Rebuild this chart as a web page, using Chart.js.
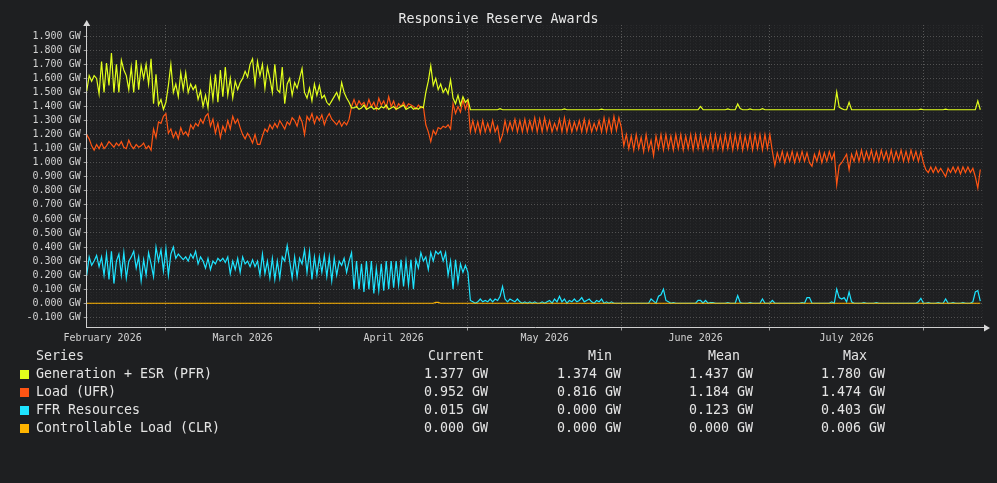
<!DOCTYPE html>
<html><head><meta charset="utf-8">
<script src="https://cdn.jsdelivr.net/npm/chart.js@4"></script>
<style>
html,body{margin:0;padding:0;background:#1e1f21;}
#wrap{position:relative;width:997px;height:483px;overflow:hidden;font-family:"DejaVu Sans Mono",monospace;}
#c{position:absolute;left:0;top:0;}
.t{position:absolute;white-space:pre;font-size:13.3px;line-height:18px;color:#e4e4e4;}
#title{position:absolute;left:0;width:997px;text-align:center;top:10px;font-size:13.3px;line-height:18px;color:#e8e8e8;white-space:pre;}
.sw{position:absolute;width:9px;height:9px;}
#dbg{position:absolute;left:400px;top:450px;color:red;font-size:12px;}
</style></head><body>
<div id="wrap"><canvas id="c" width="997" height="483"></canvas><div id="title">Responsive Reserve Awards</div><div id="legend"></div><div id="dbg"></div></div>
<script>
// x values are days counted from 1 February 2026; one sample every half day
const DAY0 = 12;
const STEP = 0.5;
const X_MIN = 12, X_MAX = 193.25;
const Y_MIN = -0.1726, Y_MAX = 1.98;

const yTickValues = [-0.1,0,0.1,0.2,0.3,0.4,0.5,0.6,0.7,0.8,0.9,1.0,1.1,1.2,1.3,1.4,1.5,1.6,1.7,1.8,1.9];
const monthBoundaries = [28,59,89,120,150,181];
const monthLabelDays = [15.2,43.5,74,104.5,135,165.5];
const monthLabels = ['February 2026','March 2026','April 2026','May 2026','June 2026','July 2026'];

const seriesNames = ['Generation + ESR (PFR)','Load (UFR)','FFR Resources','Controllable Load (CLR)'];
const seriesColors = ['#e2ff1c','#ff5514','#1ee4ff','#ffb400'];

const statCurrent = [1.377,0.952,0.015,0.000];
const statMin = [1.374,0.816,0.000,0.000];
const statMean = [1.437,1.184,0.123,0.000];
const statMax = [1.780,1.474,0.403,0.006];

const gen = [
1.51,1.62,1.58,1.62,1.6,1.49,1.72,1.5,1.71,1.55,
1.78,1.5,1.7,1.5,1.73,1.66,1.62,1.52,1.68,1.5,
1.73,1.52,1.69,1.6,1.7,1.56,1.74,1.42,1.63,1.41,
1.45,1.38,1.43,1.55,1.7,1.5,1.56,1.47,1.64,1.52,
1.64,1.5,1.56,1.52,1.55,1.45,1.51,1.4,1.48,1.39,
1.6,1.45,1.63,1.43,1.66,1.47,1.68,1.48,1.6,1.46,
1.58,1.52,1.57,1.6,1.65,1.61,1.7,1.74,1.56,1.72,
1.62,1.7,1.53,1.68,1.6,1.5,1.7,1.52,1.5,1.68,
1.42,1.56,1.6,1.48,1.57,1.53,1.6,1.67,1.5,1.46,
1.53,1.44,1.56,1.48,1.55,1.46,1.48,1.43,1.41,1.44,
1.47,1.5,1.45,1.57,1.5,1.46,1.43,1.39,1.39,1.4,
1.38,1.39,1.41,1.38,1.39,1.4,1.38,1.39,1.38,1.4,
1.39,1.41,1.38,1.39,1.4,1.38,1.39,1.4,1.41,1.38,
1.39,1.4,1.38,1.39,1.38,1.4,1.39,1.5,1.58,1.69,
1.55,1.6,1.52,1.56,1.5,1.53,1.49,1.59,1.46,1.42,
1.48,1.41,1.47,1.43,1.45,1.377,1.377,1.377,1.377,1.377,
1.377,1.377,1.377,1.377,1.377,1.377,1.377,1.385,1.377,1.377,
1.377,1.377,1.377,1.377,1.377,1.377,1.377,1.377,1.377,1.377,
1.377,1.377,1.377,1.377,1.377,1.377,1.377,1.377,1.377,1.377,
1.377,1.377,1.377,1.383,1.377,1.377,1.377,1.377,1.377,1.377,
1.377,1.377,1.377,1.377,1.377,1.377,1.377,1.377,1.381,1.377,
1.377,1.377,1.377,1.377,1.377,1.377,1.377,1.377,1.377,1.377,
1.377,1.377,1.377,1.377,1.377,1.377,1.377,1.377,1.377,1.377,
1.377,1.377,1.377,1.377,1.377,1.377,1.377,1.377,1.377,1.377,
1.377,1.377,1.377,1.377,1.377,1.377,1.377,1.377,1.4,1.377,
1.377,1.377,1.377,1.377,1.377,1.377,1.377,1.377,1.377,1.383,
1.377,1.377,1.377,1.418,1.385,1.377,1.377,1.377,1.383,1.377,
1.377,1.377,1.377,1.385,1.377,1.377,1.377,1.377,1.377,1.377,
1.377,1.377,1.377,1.377,1.377,1.377,1.377,1.377,1.377,1.377,
1.377,1.377,1.377,1.377,1.377,1.377,1.377,1.377,1.377,1.377,
1.377,1.377,1.377,1.503,1.395,1.385,1.377,1.377,1.43,1.377,
1.377,1.377,1.377,1.377,1.377,1.377,1.377,1.377,1.377,1.377,
1.377,1.377,1.377,1.377,1.377,1.377,1.377,1.377,1.377,1.377,
1.377,1.377,1.377,1.377,1.377,1.377,1.377,1.381,1.377,1.377,
1.377,1.377,1.377,1.377,1.377,1.377,1.377,1.381,1.377,1.377,
1.377,1.377,1.377,1.377,1.377,1.377,1.377,1.377,1.377,1.377,
1.44,1.377
];

const load = [
1.2,1.17,1.12,1.09,1.13,1.1,1.14,1.1,1.12,1.15,
1.13,1.11,1.14,1.12,1.15,1.11,1.1,1.16,1.12,1.1,
1.13,1.11,1.12,1.14,1.1,1.12,1.09,1.24,1.18,1.29,
1.28,1.33,1.35,1.21,1.24,1.18,1.22,1.17,1.25,1.2,
1.22,1.19,1.27,1.24,1.28,1.26,1.31,1.28,1.33,1.35,
1.26,1.31,1.21,1.28,1.18,1.26,1.22,1.3,1.24,1.33,
1.28,1.31,1.25,1.2,1.17,1.21,1.18,1.14,1.2,1.13,
1.13,1.19,1.24,1.22,1.27,1.24,1.28,1.25,1.3,1.27,
1.24,1.29,1.27,1.32,1.3,1.26,1.33,1.29,1.2,1.33,
1.3,1.35,1.28,1.33,1.3,1.34,1.27,1.32,1.35,1.31,
1.29,1.27,1.3,1.26,1.29,1.27,1.31,1.4,1.45,1.4,
1.44,1.41,1.43,1.39,1.45,1.4,1.43,1.38,1.46,1.41,
1.44,1.39,1.47,1.4,1.44,1.38,1.42,1.4,1.43,1.39,
1.42,1.41,1.4,1.38,1.41,1.39,1.4,1.27,1.22,1.15,
1.23,1.2,1.25,1.24,1.26,1.25,1.27,1.24,1.42,1.35,
1.4,1.36,1.45,1.38,1.44,1.22,1.3,1.22,1.29,1.21,
1.3,1.22,1.28,1.22,1.3,1.22,1.26,1.15,1.2,1.3,
1.22,1.29,1.23,1.31,1.22,1.3,1.22,1.31,1.22,1.3,
1.23,1.32,1.22,1.31,1.22,1.32,1.23,1.3,1.22,1.28,
1.23,1.31,1.22,1.32,1.22,1.3,1.22,1.29,1.23,1.3,
1.22,1.31,1.22,1.3,1.22,1.28,1.23,1.3,1.22,1.32,
1.22,1.31,1.22,1.33,1.23,1.32,1.25,1.12,1.2,1.1,
1.19,1.09,1.2,1.1,1.18,1.08,1.2,1.09,1.16,1.05,
1.19,1.1,1.2,1.09,1.2,1.1,1.19,1.09,1.2,1.1,
1.2,1.09,1.19,1.1,1.2,1.09,1.2,1.1,1.2,1.09,
1.18,1.1,1.2,1.09,1.2,1.1,1.19,1.09,1.2,1.1,
1.2,1.09,1.2,1.1,1.2,1.09,1.19,1.1,1.2,1.09,
1.2,1.1,1.2,1.09,1.2,1.1,1.2,1.08,0.98,1.07,
1.01,1.08,1.0,1.07,1.01,1.08,1.0,1.07,1.01,1.08,
1.01,1.07,1.0,0.975,1.06,1.01,1.08,1.0,1.07,1.01,
1.08,1.02,1.07,0.843,0.98,1.0,1.03,1.06,0.95,1.06,
1.01,1.08,1.01,1.09,1.01,1.08,1.02,1.09,1.01,1.08,
1.01,1.09,1.02,1.08,1.01,1.09,1.01,1.08,1.02,1.09,
1.01,1.08,1.01,1.09,1.02,1.08,1.01,1.08,1.0,0.95,
0.93,0.97,0.93,0.97,0.93,0.96,0.93,0.9,0.96,0.93,
0.97,0.93,0.97,0.92,0.97,0.93,0.97,0.93,0.96,0.9,
0.82,0.952
];

const ffr = [
0.2,0.33,0.27,0.3,0.34,0.26,0.33,0.2,0.35,0.17,
0.37,0.14,0.3,0.35,0.2,0.36,0.18,0.3,0.33,0.37,
0.25,0.33,0.16,0.31,0.2,0.36,0.28,0.19,0.4,0.3,
0.38,0.23,0.39,0.2,0.35,0.4,0.32,0.35,0.33,0.31,
0.33,0.3,0.35,0.32,0.37,0.28,0.33,0.3,0.25,0.32,
0.24,0.3,0.28,0.32,0.3,0.32,0.29,0.33,0.21,0.3,
0.24,0.32,0.22,0.33,0.28,0.3,0.26,0.31,0.26,0.3,
0.2,0.35,0.21,0.3,0.18,0.32,0.17,0.3,0.18,0.33,
0.3,0.41,0.3,0.18,0.33,0.19,0.32,0.28,0.38,0.22,
0.37,0.17,0.33,0.2,0.33,0.22,0.34,0.19,0.33,0.16,
0.32,0.2,0.3,0.27,0.32,0.22,0.3,0.36,0.1,0.3,
0.1,0.28,0.08,0.3,0.1,0.3,0.07,0.25,0.09,0.28,
0.09,0.3,0.1,0.3,0.11,0.3,0.13,0.31,0.12,0.3,
0.13,0.31,0.1,0.31,0.25,0.36,0.3,0.33,0.24,0.36,
0.3,0.37,0.35,0.37,0.3,0.36,0.2,0.3,0.1,0.31,
0.15,0.28,0.22,0.27,0.22,0.02,0.01,0,0.01,0.03,
0.01,0.02,0.01,0.03,0.01,0.03,0.02,0.05,0.12,0.03,
0.01,0.03,0.02,0.01,0.03,0.01,0,0.01,0,0.01,
0,0.01,0,0,0.01,0,0.01,0.02,0,0.03,
0.01,0.05,0.01,0.03,0,0.02,0.01,0.03,0.01,0.02,
0.04,0.01,0.02,0.03,0.01,0,0.02,0.01,0.03,0,
0.01,0,0.01,0,0,0,0,0,0,0,
0,0,0,0,0,0,0,0,0.03,0.015,
0,0.05,0.06,0.1,0.02,0.01,0,0.005,0,0,
0,0,0,0,0,0,0,0.02,0.02,0,
0.02,0,0.005,0.005,0,0,0,0,0,0.005,
0,0,0,0.055,0.005,0,0,0,0.005,0,
0,0,0,0.03,0,0,0,0.02,0,0,
0,0,0,0,0,0,0,0,0,0.005,
0,0.04,0.04,0,0,0,0,0,0,0,
0,0.01,0,0.1,0.04,0.03,0.04,0.01,0.08,0.01,
0,0,0,0,0.005,0,0,0,0,0.005,
0,0,0,0,0,0,0,0,0,0,
0,0,0,0,0,0,0.01,0.035,0,0,
0.005,0,0,0,0.005,0,0,0.03,0,0,
0.005,0,0,0,0.005,0,0,0,0.01,0.08,
0.09,0.015
];

const clr = [
0,0,0,0,0,0,0,0,0,0,0,0,0,0,0,0,0,0,0,0,
0,0,0,0,0,0,0,0,0,0,0,0,0,0,0,0,0,0,0,0,
0,0,0,0,0,0,0,0,0,0,0,0,0,0,0,0,0,0,0,0,
0,0,0,0,0,0,0,0,0,0,0,0,0,0,0,0,0,0,0,0,
0,0,0,0,0,0,0,0,0,0,0,0,0,0,0,0,0,0,0,0,
0,0,0,0,0,0,0,0,0,0,0,0,0,0,0,0,0,0,0,0,
0,0,0,0,0,0,0,0,0,0,0,0,0,0,0,0,0,0,0,0,
0,0.006,0.006,0,0,0,0,0,0,0,0,0,0,0,0,0,0,0,0,0,
0,0,0,0,0,0,0,0,0,0,0,0,0,0,0,0,0,0,0,0,
0,0,0,0,0,0,0,0,0,0,0,0,0,0,0,0,0,0,0,0,
0,0,0,0,0,0,0,0,0,0,0,0,0,0,0,0,0,0,0,0,
0,0,0,0,0,0,0,0,0,0,0,0,0,0,0,0,0,0,0,0,
0,0,0,0,0,0,0,0,0,0,0,0,0,0,0,0,0,0,0,0,
0,0,0,0,0,0,0,0,0,0,0,0,0,0,0,0,0,0,0,0,
0,0,0,0,0,0,0,0,0,0,0,0,0,0,0,0,0,0,0,0,
0,0,0,0,0,0,0,0,0,0,0,0,0,0,0,0,0,0,0,0,
0,0,0,0,0,0,0,0,0,0,0,0,0,0,0,0,0,0,0,0,
0,0,0,0,0,0,0,0,0,0,0,0,0,0,0,0,0,0,0,0,
0,0
];

const seriesData = [gen, load, ffr, clr];
const drawOrder = [1, 3, 4, 2];
const dbg = seriesData.map(a => a.length).filter(n => n !== 362);
if (dbg.length) document.getElementById('dbg').textContent = 'LEN ' + seriesData.map(a => a.length).join(',');

const FONT = '"DejaVu Sans Mono", monospace';
Chart.defaults.font.family = FONT;

const toPts = arr => arr.map((v, i) => ({x: DAY0 + i * STEP, y: v}));

const arrows = {
  id: 'arrows',
  afterDraw(chart) {
    const {ctx, chartArea: a} = chart;
    ctx.save();
    ctx.fillStyle = '#d8d8d8';
    ctx.strokeStyle = '#d8d8d8';
    ctx.lineWidth = 1;
    ctx.beginPath();
    ctx.moveTo(a.right, a.bottom + 0.5); ctx.lineTo(a.right + 2, a.bottom + 0.5); ctx.stroke();
    ctx.beginPath();
    ctx.moveTo(a.right + 6, a.bottom + 0.5);
    ctx.lineTo(a.right, a.bottom - 3);
    ctx.lineTo(a.right, a.bottom + 4);
    ctx.closePath(); ctx.fill();
    ctx.beginPath();
    ctx.moveTo(a.left, a.top - 5);
    ctx.lineTo(a.left - 3.5, a.top + 1);
    ctx.lineTo(a.left + 3.5, a.top + 1);
    ctx.closePath(); ctx.fill();
    ctx.restore();
  }
};

new Chart(document.getElementById('c'), {
  type: 'line',
  data: {
    datasets: seriesData.map((arr, k) => ({
      label: seriesNames[k],
      data: toPts(arr),
      borderColor: seriesColors[k],
      backgroundColor: seriesColors[k],
      borderWidth: 1.2,
      pointRadius: 0,
      tension: 0,
      fill: false,
      order: drawOrder[k]
    }))
  },
  options: {
    responsive: false,
    animation: false,
    events: [],
    layout: {padding: {left: 0, right: 13, top: 25, bottom: 138.5}},
    plugins: {legend: {display: false}, title: {display: false}, tooltip: {enabled: false}},
    scales: {
      xm: {
        type: 'linear', min: X_MIN, max: X_MAX, position: 'bottom',
        afterFit: s => { s.height = 0; },
        ticks: {display: false, stepSize: 1, includeBounds: false},
        grid: {color: 'rgba(255,255,255,0.045)', drawTicks: false},
        border: {display: false, dash: [1, 2]}
      },
      ym: {
        type: 'linear', min: Y_MIN, max: Y_MAX, position: 'left',
        afterFit: s => { s.width = 0; },
        ticks: {display: false, stepSize: 0.02, includeBounds: false},
        grid: {color: 'rgba(255,255,255,0.035)', drawTicks: false},
        border: {display: false, dash: [1, 2]}
      },
      x: {
        type: 'linear', min: X_MIN, max: X_MAX, position: 'bottom',
        afterBuildTicks: s => {
          s.ticks = monthBoundaries.map(v => ({value: v}))
            .concat(monthLabelDays.map(v => ({value: v})))
            .sort((p, q) => p.value - q.value);
        },
        afterFit: s => { s.height = 17; },
        ticks: {
          autoSkip: false, maxRotation: 0, padding: 2, color: '#d2d2d2',
          font: {family: FONT, size: 10},
          callback: v => { const k = monthLabelDays.indexOf(v); return k >= 0 ? monthLabels[k] : ''; }
        },
        grid: {
          color: c => (c.tick && monthBoundaries.includes(c.tick.value)) ? '#585858' : 'rgba(0,0,0,0)',
          tickColor: c => (c.tick && monthBoundaries.includes(c.tick.value)) ? '#9a9a9a' : 'rgba(0,0,0,0)',
          tickLength: 3
        },
        border: {display: true, color: '#d0d0d0', width: 1, dash: [1, 2]}
      },
      y: {
        type: 'linear', min: Y_MIN, max: Y_MAX, position: 'left',
        afterBuildTicks: s => { s.ticks = yTickValues.map(v => ({value: v})); },
        afterFit: s => { s.width = 86.7; },
        ticks: {
          autoSkip: false, padding: 3, color: '#d2d2d2',
          font: {family: FONT, size: 10},
          callback: v => v.toFixed(3) + ' GW'
        },
        grid: {color: '#525252', tickColor: '#9a9a9a', tickLength: 3},
        border: {display: true, color: '#d0d0d0', width: 1, dash: [1, 2]}
      }
    }
  },
  plugins: [arrows]
});

// legend table
const legend = document.getElementById('legend');
function addText(txt, left, cy) {
  const d = document.createElement('div');
  d.className = 't';
  d.textContent = txt;
  d.style.left = left + 'px';
  d.style.top = (cy - 9) + 'px';
  legend.appendChild(d);
}
const headY = 356;
addText('Series', 36, headY);
addText('Current', 428, headY);
addText('Min', 588, headY);
addText('Mean', 708, headY);
addText('Max', 843, headY);
const fmt = v => v.toFixed(3) + ' GW';
seriesNames.forEach((name, k) => {
  const cy = 374.3 + 18 * k;
  const sw = document.createElement('div');
  sw.className = 'sw';
  sw.style.left = '20px';
  sw.style.top = (cy - 4.5) + 'px';
  sw.style.background = seriesColors[k];
  legend.appendChild(sw);
  addText(name, 36, cy);
  addText(fmt(statCurrent[k]), 424, cy);
  addText(fmt(statMin[k]), 557, cy);
  addText(fmt(statMean[k]), 689, cy);
  addText(fmt(statMax[k]), 821, cy);
});
</script>
</body></html>
